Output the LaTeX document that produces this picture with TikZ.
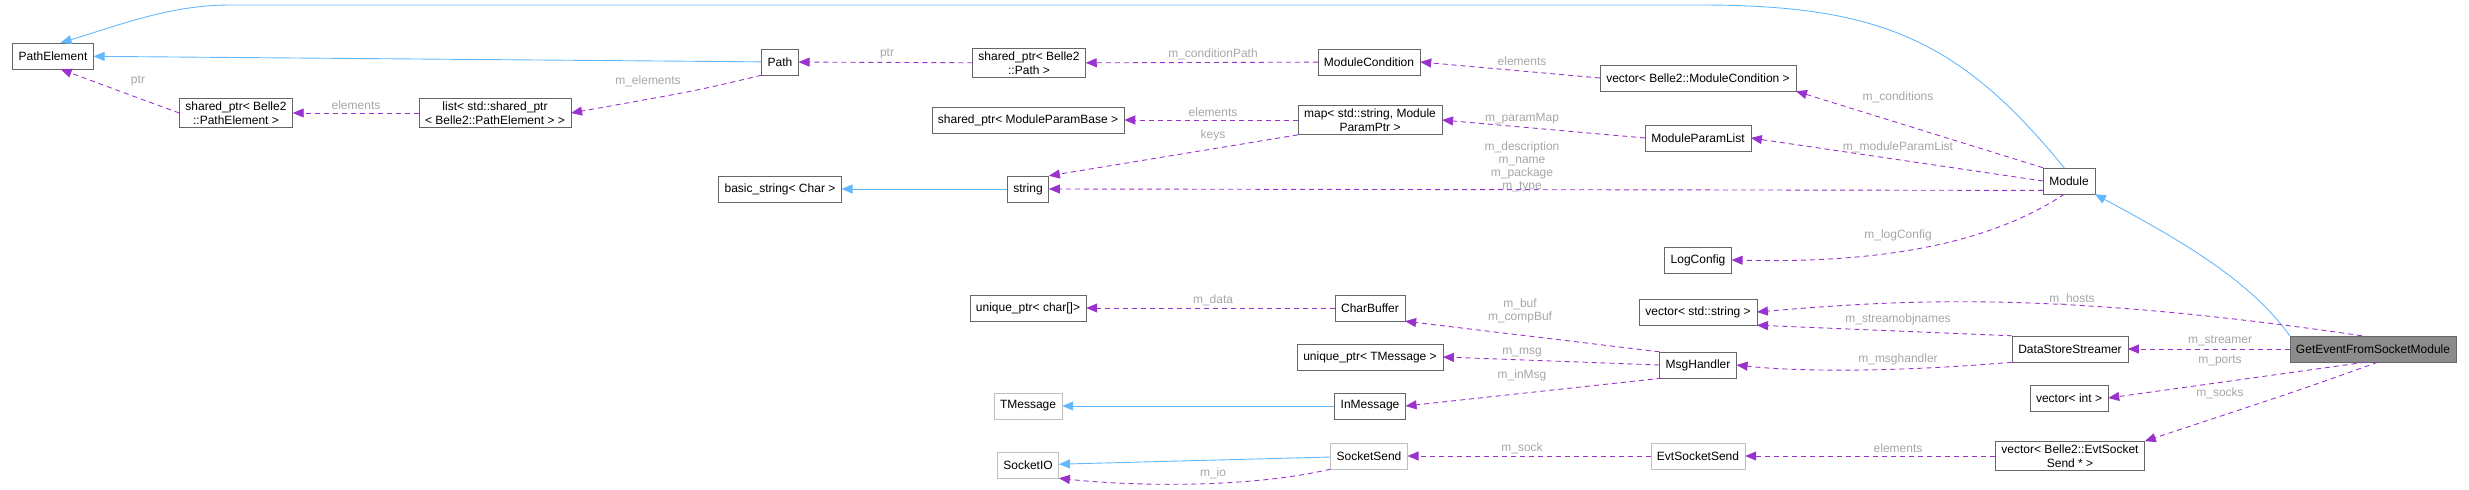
\documentclass[tikz,border=0pt]{standalone}
\usepackage{fontspec}
\setmainfont{Liberation Sans}
\usetikzlibrary{arrows.meta,positioning}
\definecolor{mem}{HTML}{9A32CD}
\definecolor{inhc}{HTML}{63B8FF}
\begin{document}
\begin{tikzpicture}[x=1pt,y=-1pt,
    cls/.style={draw=black!60, fill=white, font=\fontsize{12}{14.5}\selectfont, align=center,
                inner xsep=6pt, inner ysep=3pt, minimum height=26pt},
    ext/.style={cls, draw=black!25},
    cur/.style={cls, fill=black!45},
    inh/.style={draw=inhc, line width=0.9pt, -{Triangle[length=11pt,width=9pt]}},
    use/.style={draw=mem, line width=0.9pt, dash pattern=on 5pt off 4pt, -{Triangle[length=11pt,width=9pt]}},
    lbl/.style={text=black!35, font=\fontsize{12}{13}\selectfont, align=center, inner sep=1pt}]
    \useasboundingbox (0,0) rectangle (2469,490);

    % Classes, column by column
    \node[cls] (pe) at (53,56) {PathElement};
    \node[cls] (spPe) at (236,113) {shared\_ptr< Belle2\\::PathElement >};
    \node[cls] (lst) at (495,113) {list< std::shared\_ptr\\< Belle2::PathElement > >};
    \node[cls] (path) at (780,62) {Path};
    \node[cls] (bstr) at (780,189) {basic\_string< Char >};
    \node[cls] (spPath) at (1029,63) {shared\_ptr< Belle2\\::Path >};
    \node[cls] (spMpb) at (1028,120) {shared\_ptr< ModuleParamBase >};
    \node[cls] (str) at (1028,189) {string};
    \node[cls] (upChar) at (1028,308) {unique\_ptr< char[]>};
    \node[ext] (tmsg) at (1028,406) {TMessage};
    \node[ext] (sio) at (1028,465) {SocketIO};
    \node[cls] (mcond) at (1369,62) {ModuleCondition};
    \node[cls] (pmap) at (1370,120) {map< std::string, Module\\ParamPtr >};
    \node[cls] (cbuf) at (1370,308) {CharBuffer};
    \node[cls] (upTmsg) at (1370,357) {unique\_ptr< TMessage >};
    \node[cls] (inmsg) at (1370,406) {InMessage};
    \node[ext] (ssend) at (1369,456) {SocketSend};
    \node[cls] (vMcond) at (1698,78) {vector< Belle2::ModuleCondition >};
    \node[cls] (mpl) at (1698,138) {ModuleParamList};
    \node[cls] (logc) at (1698,260) {LogConfig};
    \node[cls] (vStr) at (1698,312) {vector< std::string >};
    \node[cls] (msgh) at (1698,365) {MsgHandler};
    \node[ext] (ess) at (1698,456) {EvtSocketSend};
    \node[cls] (mod) at (2069,181) {Module};
    \node[cls] (dss) at (2070,349) {DataStoreStreamer};
    \node[cls] (vInt) at (2069,398) {vector< int >};
    \node[cls] (vEss) at (2070,456) {vector< Belle2::EvtSocket\\Send * >};
    \node[cur] (gefs) at (2373,349) {GetEventFromSocketModule};

    % Inheritance
    \draw[inh] (mod.110) .. controls (1960,40) and (1880,5) .. (1700,5) -- (230,5)
        .. controls (170,5) and (120,25) .. (pe.60);
    \draw[inh] (path) -- (pe);
    \draw[inh] (gefs.north west) .. controls (2250,280) and (2180,240) .. (mod.south east);
    \draw[inh] (str) -- (bstr);
    \draw[inh] (inmsg) -- (tmsg);
    \draw[inh] (ssend) -- (sio);

    % Members
    \draw[use] (spPe.west) .. controls (130,95) .. (pe.300);
    \draw[use] (lst) -- (spPe);
    \draw[use] (path.south west) .. controls (700,90) .. (lst.east);
    \draw[use] (spPath) -- (path);
    \draw[use] (mcond) -- (spPath);
    \draw[use] (vMcond.west) -- (mcond.east);
    \draw[use] (pmap) -- (spMpb);
    \draw[use] (pmap.south west) -- (str.north east);
    \draw[use] (mpl.west) -- (pmap.east);
    \draw[use] (mod.north west) -- (vMcond.south east);
    \draw[use] (mod.west) -- (mpl.east);
    \draw[use] (mod.200) -- (str.east);
    \draw[use] (mod.250) .. controls (1980,250) and (1860,263) .. (logc.east);
    \draw[use] (cbuf) -- (upChar);
    \draw[use] (msgh.north west) -- (cbuf.south east);
    \draw[use] (msgh.west) -- (upTmsg.east);
    \draw[use] (msgh.200) -- (inmsg.east);
    \draw[use] (ssend.south west) .. controls (1240,490) and (1120,485) .. (sio.south east);
    \draw[use] (ess) -- (ssend);
    \draw[use] (gefs.130) .. controls (2050,290) and (1900,300) .. (vStr.east);
    \draw[use] (dss.north west) -- (vStr.south east);
    \draw[use] (dss.south west) .. controls (1900,372) and (1800,372) .. (msgh.east);
    \draw[use] (gefs) -- (dss);
    \draw[use] (gefs.240) -- (vInt.east);
    \draw[use] (gefs.290) .. controls (2300,390) .. (vEss.north east);
    \draw[use] (vEss) -- (ess);

    % Member names
    \node[lbl] (lPtrA) at (138,81) {ptr};
    \node[lbl] (lElemA) at (356,105) {elements};
    \node[lbl] (lElems) at (648,81) {m\_elements};
    \node[lbl] (lPtrB) at (887,54) {ptr};
    \node[lbl] (lCondPath) at (1213,54) {m\_conditionPath};
    \node[lbl] (lElemB) at (1522,61) {elements};
    \node[lbl] (lElemC) at (1213,112) {elements};
    \node[lbl] (lKeys) at (1213,135) {keys};
    \node[lbl] (lParamMap) at (1522,119) {m\_paramMap};
    \node[lbl] (lStrs) at (1522,167) {m\_description\\m\_name\\m\_package\\m\_type};
    \node[lbl] (lConds) at (1898,97) {m\_conditions};
    \node[lbl] (lMpl) at (1898,147) {m\_moduleParamList};
    \node[lbl] (lLog) at (1898,235) {m\_logConfig};
    \node[lbl] (lData) at (1213,300) {m\_data};
    \node[lbl] (lBuf) at (1520,311) {m\_buf\\m\_compBuf};
    \node[lbl] (lMsg) at (1522,353) {m\_msg};
    \node[lbl] (lInMsg) at (1522,375) {m\_inMsg};
    \node[lbl] (lSock) at (1522,448) {m\_sock};
    \node[lbl] (lIo) at (1213,473) {m\_io};
    \node[lbl] (lHosts) at (2072,299) {m\_hosts};
    \node[lbl] (lObjNames) at (1898,319) {m\_streamobjnames};
    \node[lbl] (lHandler) at (1898,359) {m\_msghandler};
    \node[lbl] (lStreamer) at (2220,341) {m\_streamer};
    \node[lbl] (lPorts) at (2220,361) {m\_ports};
    \node[lbl] (lSocks) at (2220,393) {m\_socks};
    \node[lbl] (lElemD) at (1898,448) {elements};
\end{tikzpicture}
\end{document}
